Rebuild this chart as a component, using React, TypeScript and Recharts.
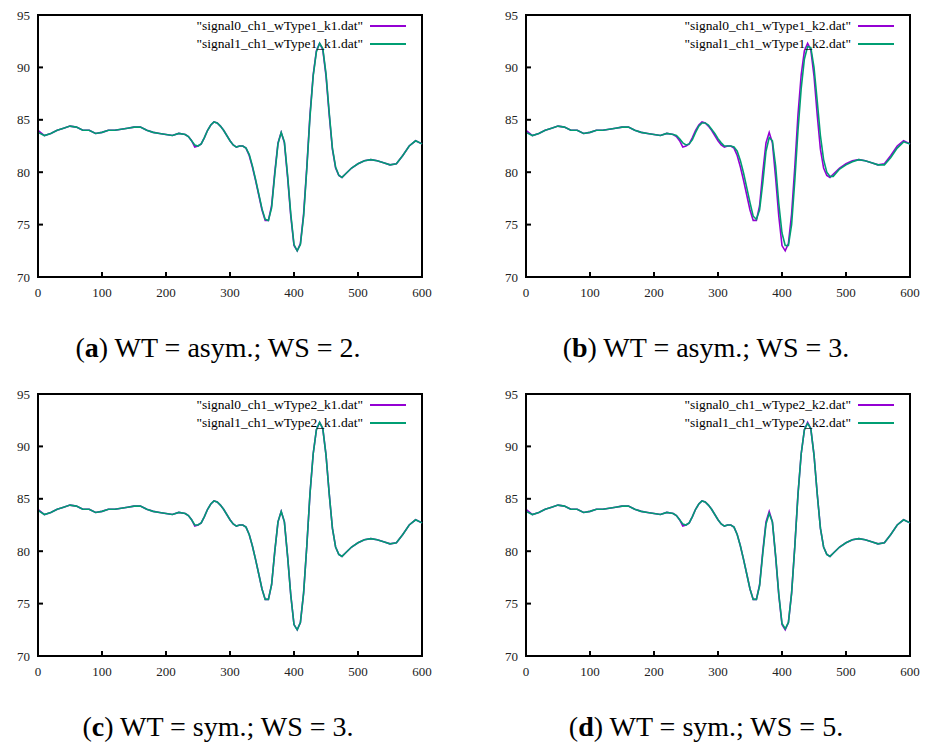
import React from "react";
import { LineChart, Line, XAxis, YAxis, ReferenceArea } from "recharts";

// sample positions (denser where the waveform moves fast)
const xs = [
  0, 10, 20, 30, 40, 50, 60, 70, 80, 90, 100, 110, 120, 130, 140, 150, 160, 170, 180, 190, 200, 210, 220, 230,
  235, 240, 245, 250, 255, 260, 265, 270, 275, 280, 285, 290, 295, 300, 305, 310, 315, 320, 325, 330, 335, 340,
  345, 350, 355, 360, 365, 370, 375, 380, 385, 390, 395, 400, 405, 410, 415, 420, 425, 430, 435, 440, 445, 450,
  455, 460, 465, 470, 475, 480, 490, 500, 510, 520, 530, 540, 550, 560, 570, 580, 590, 600,
];

const signal0 = [
  84.0, 83.5, 83.7, 84.0, 84.2, 84.4, 84.3, 84.0, 84.0, 83.7, 83.8, 84.0, 84.0, 84.1, 84.2, 84.3, 84.3, 84.0, 83.8, 83.7, 83.6, 83.5, 83.7, 83.6,
  83.4, 83.0, 82.4, 82.5, 82.7, 83.3, 84.0, 84.5, 84.8, 84.7, 84.4, 84.0, 83.5, 83.0, 82.6, 82.4, 82.5, 82.5, 82.3, 81.6, 80.5, 79.2,
  77.8, 76.4, 75.4, 75.4, 76.8, 80.0, 82.8, 83.8, 82.8, 79.5, 75.8, 73.0, 72.5, 73.2, 76.0, 80.5, 85.5, 89.3, 91.6, 92.3, 91.7, 89.2,
  85.5, 82.2, 80.4, 79.7, 79.5, 79.8, 80.4, 80.8, 81.1, 81.2, 81.1, 80.9, 80.7, 80.8, 81.6, 82.5, 83.0, 82.7,
];

const signal1A = [
  83.8, 83.5, 83.7, 84.0, 84.2, 84.4, 84.3, 84.0, 84.0, 83.7, 83.8, 84.0, 84.0, 84.1, 84.2, 84.3, 84.3, 84.0, 83.8, 83.7, 83.6, 83.5, 83.7, 83.6,
  83.4, 83.0, 82.6, 82.5, 82.7, 83.3, 84.0, 84.5, 84.8, 84.7, 84.4, 84.0, 83.5, 83.0, 82.6, 82.4, 82.5, 82.5, 82.3, 81.7, 80.6, 79.3,
  77.9, 76.5, 75.5, 75.4, 76.6, 79.8, 82.7, 83.8, 82.9, 79.7, 76.0, 73.1, 72.5, 73.1, 75.8, 80.3, 85.3, 89.2, 91.5, 92.3, 91.8, 89.4,
  85.7, 82.3, 80.5, 79.7, 79.5, 79.8, 80.4, 80.8, 81.1, 81.2, 81.1, 80.9, 80.7, 80.8, 81.6, 82.5, 83.0, 82.7,
];

const signal1B = [
  83.8, 83.5, 83.7, 84.0, 84.2, 84.4, 84.3, 84.0, 84.0, 83.7, 83.8, 84.0, 84.0, 84.1, 84.2, 84.3, 84.3, 84.0, 83.8, 83.7, 83.6, 83.5, 83.7, 83.6,
  83.5, 83.2, 82.8, 82.6, 82.7, 83.1, 83.8, 84.4, 84.7, 84.7, 84.5, 84.1, 83.7, 83.2, 82.8, 82.5, 82.5, 82.5, 82.4, 82.0, 81.1, 79.9,
  78.5, 77.1, 75.8, 75.5, 76.4, 79.0, 82.0, 83.3, 83.0, 80.6, 77.0, 74.2, 73.0, 73.0, 75.0, 79.2, 84.0, 88.0, 90.8, 92.0, 91.9, 90.0,
  86.8, 83.5, 81.2, 80.0, 79.6, 79.6, 80.3, 80.7, 81.0, 81.2, 81.1, 80.9, 80.7, 80.7, 81.4, 82.3, 82.9, 82.7,
];

const signal1C = [
  83.9, 83.5, 83.7, 84.0, 84.2, 84.4, 84.3, 84.0, 84.0, 83.7, 83.8, 84.0, 84.0, 84.1, 84.2, 84.3, 84.3, 84.0, 83.8, 83.7, 83.6, 83.5, 83.7, 83.6,
  83.4, 83.0, 82.5, 82.5, 82.7, 83.3, 84.0, 84.5, 84.8, 84.7, 84.4, 84.0, 83.5, 83.0, 82.6, 82.4, 82.5, 82.5, 82.3, 81.6, 80.5, 79.2,
  77.8, 76.4, 75.4, 75.4, 76.8, 80.0, 82.8, 83.8, 82.8, 79.5, 75.8, 73.0, 72.5, 73.2, 76.0, 80.5, 85.5, 89.3, 91.6, 92.3, 91.7, 89.2,
  85.5, 82.2, 80.4, 79.7, 79.5, 79.8, 80.4, 80.8, 81.1, 81.2, 81.1, 80.9, 80.7, 80.8, 81.6, 82.5, 83.0, 82.7,
];

const signal1D = [
  83.8, 83.5, 83.7, 84.0, 84.2, 84.4, 84.3, 84.0, 84.0, 83.7, 83.8, 84.0, 84.0, 84.1, 84.2, 84.3, 84.3, 84.0, 83.8, 83.7, 83.6, 83.5, 83.7, 83.6,
  83.4, 83.0, 82.6, 82.5, 82.7, 83.3, 84.0, 84.5, 84.8, 84.7, 84.4, 84.0, 83.5, 83.0, 82.6, 82.4, 82.5, 82.5, 82.3, 81.6, 80.5, 79.2,
  77.8, 76.4, 75.4, 75.4, 76.7, 79.8, 82.6, 83.6, 82.8, 79.6, 75.9, 73.1, 72.6, 73.2, 76.0, 80.4, 85.4, 89.3, 91.6, 92.2, 91.7, 89.2,
  85.5, 82.2, 80.4, 79.7, 79.5, 79.8, 80.4, 80.8, 81.1, 81.2, 81.1, 80.9, 80.7, 80.8, 81.6, 82.5, 83.0, 82.7,
];

const xTicks = [0, 100, 200, 300, 400, 500, 600];
const yTicks = [70, 75, 80, 85, 90, 95];

const panels = [
  { id: "a", left: 0, top: 0, s0: signal0, s1: signal1A, name0: "signal0_ch1_wType1_k1.dat", name1: "signal1_ch1_wType1_k1.dat", caption: " WT = asym.; WS = 2." },
  { id: "b", left: 488, top: 0, s0: signal0, s1: signal1B, name0: "signal0_ch1_wType1_k2.dat", name1: "signal1_ch1_wType1_k2.dat", caption: " WT = asym.; WS = 3." },
  { id: "c", left: 0, top: 379, s0: signal0, s1: signal1C, name0: "signal0_ch1_wType2_k1.dat", name1: "signal1_ch1_wType2_k1.dat", caption: " WT = sym.; WS = 3." },
  { id: "d", left: 488, top: 379, s0: signal0, s1: signal1D, name0: "signal0_ch1_wType2_k2.dat", name1: "signal1_ch1_wType2_k2.dat", caption: " WT = sym.; WS = 5." },
];

const PURPLE = "#9400d3";
const GREEN = "#009e73";
const SERIF = "Liberation Serif, serif";
const tickStyle = { fill: "#222", fontSize: 13, fontFamily: SERIF };

const Panel = ({ p }: { p: (typeof panels)[number] }) => {
  const data = xs.map((x, i) => ({ x, s0: p.s0[i], s1: p.s1[i] }));
  return (
    <div style={{ position: "absolute", left: p.left, top: p.top, width: 460, height: 380 }}>
      <LineChart width={460} height={310} data={data} margin={{ top: 15, right: 38, left: 8, bottom: 3 }}>
        <XAxis
          dataKey="x"
          type="number"
          domain={[0, 600]}
          ticks={xTicks}
          stroke="#000"
          strokeWidth={2}
          tickSize={-5}
          tickMargin={16}
          tick={tickStyle}
          height={30}
        />
        <XAxis xAxisId="top" orientation="top" type="number" domain={[0, 600]} ticks={xTicks} stroke="#000" strokeWidth={2} tickSize={-5} tick={false} height={0} />
        <YAxis
          type="number"
          domain={[70, 95]}
          ticks={yTicks}
          stroke="#000"
          strokeWidth={2}
          tickSize={-5}
          tickMargin={13}
          tick={tickStyle}
          width={30}
        />
        <YAxis yAxisId="right" orientation="right" type="number" domain={[70, 95]} ticks={yTicks} stroke="#000" strokeWidth={2} tickSize={-5} tick={false} width={0} />
        <ReferenceArea x1={0} x2={600} y1={70} y2={95} fill="#fff" fillOpacity={0} stroke="#000" strokeWidth={2} ifOverflow="visible" />
        <Line type="linear" dataKey="s0" stroke={PURPLE} strokeWidth={1.6} dot={false} isAnimationActive={false} />
        <Line type="linear" dataKey="s1" stroke={GREEN} strokeWidth={1.6} dot={false} isAnimationActive={false} />
      </LineChart>
      <div style={{ position: "absolute", top: 17, right: 54, fontFamily: SERIF, fontSize: 13.5, lineHeight: "18px", color: "#000" }}>
        {[
          { name: p.name0, color: PURPLE },
          { name: p.name1, color: GREEN },
        ].map((r) => (
          <div key={r.name} style={{ display: "flex", alignItems: "center", justifyContent: "flex-end" }}>
            <span>"{r.name}"</span>
            <span style={{ display: "inline-block", width: 36, height: 2, background: r.color, marginLeft: 7 }} />
          </div>
        ))}
      </div>
      <div style={{ position: "absolute", top: 332, left: 0, width: 436, textAlign: "center", fontFamily: SERIF, fontSize: 28, color: "#000", whiteSpace: "nowrap" }}>
        (<b>{p.id}</b>){p.caption}
      </div>
    </div>
  );
};

export default function App() {
  return (
    <div style={{ position: "absolute", left: 0, top: 0, width: 927, height: 746, background: "#fff" }}>
      {panels.map((p) => (
        <Panel key={p.id} p={p} />
      ))}
    </div>
  );
}
